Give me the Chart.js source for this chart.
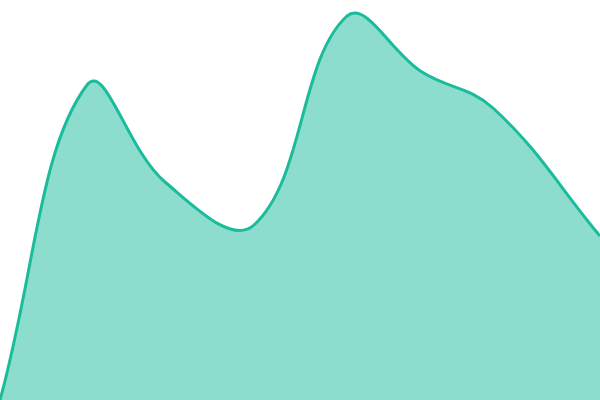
<!DOCTYPE html>
<html>
<head>
<meta charset="utf-8">
<script src="https://cdn.jsdelivr.net/npm/chart.js@4"></script>
<style>
html,body{margin:0;padding:0;background:#fff;}
#wrap{width:600px;height:400px;}
</style>
</head>
<body>
<div id="wrap"><canvas id="c"></canvas></div>
<script>
const xValues = [0, 87, 165, 254, 347, 422, 493, 600];
const yValues = [0, 315, 218, 175, 384, 328, 292, 164];

const points = xValues.map((x, i) => ({x: x, y: yValues[i]}));

new Chart(document.getElementById('c'), {
  type: 'line',
  data: {
    datasets: [{
      data: points,
      borderColor: '#1abc9c',
      backgroundColor: 'rgba(26,188,156,0.5)',
      borderWidth: 3,
      fill: 'origin',
      pointRadius: 0,
      tension: 0.4
    }]
  },
  options: {
    responsive: true,
    maintainAspectRatio: false,
    animation: false,
    layout: {padding: 0},
    plugins: {legend: {display: false}, tooltip: {enabled: false}},
    scales: {
      x: {type: 'linear', min: 0, max: 600, display: false},
      y: {min: 0, max: 400, display: false}
    }
  }
});
</script>
</body>
</html>
